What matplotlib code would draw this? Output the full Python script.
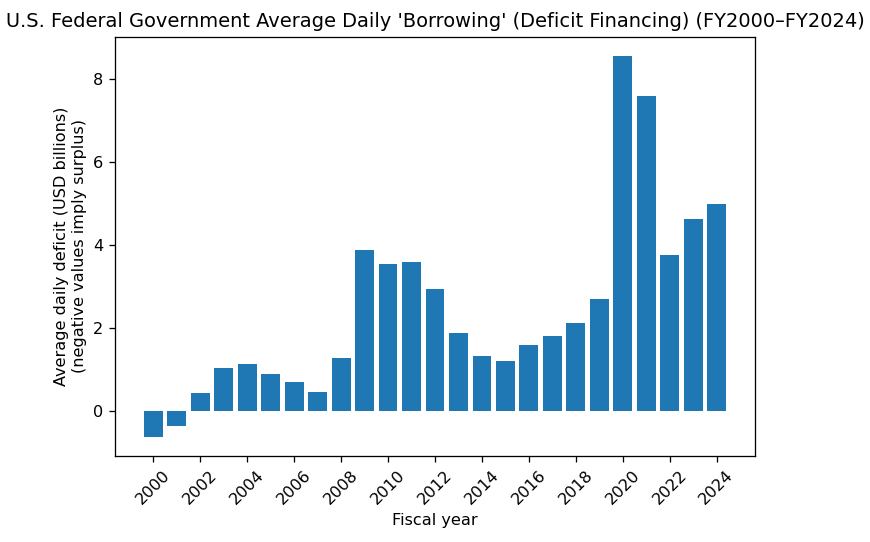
import matplotlib
matplotlib.use("Agg")
import matplotlib.pyplot as plt

# fiscal years and average daily deficit (USD billions)
years = list(range(2000, 2025))
daily_deficit = [-0.63, -0.36, 0.43, 1.04, 1.13, 0.88, 0.69, 0.46, 1.27,
                 3.89, 3.55, 3.58, 2.94, 1.87, 1.33, 1.19, 1.58, 1.81,
                 2.11, 2.71, 8.57, 7.60, 3.76, 4.62, 4.99]
tick_years = list(range(2000, 2025, 2))

dpi = 116
fig = plt.figure(figsize=(870 / dpi, 542 / dpi), dpi=dpi)
ax = fig.add_subplot(111)
fig.subplots_adjust(left=0.132, right=0.868, top=0.932, bottom=0.159)

ax.bar(years, daily_deficit)
ax.set_title("U.S. Federal Government Average Daily 'Borrowing' (Deficit Financing) (FY2000\u2013FY2024)")
ax.set_xlabel("Fiscal year")
ax.set_ylabel("Average daily deficit (USD billions)\n(negative values imply surplus)")
ax.set_xticks(tick_years)
ax.set_xticklabels([str(y) for y in tick_years], rotation=45)

fig.savefig("out.png")
